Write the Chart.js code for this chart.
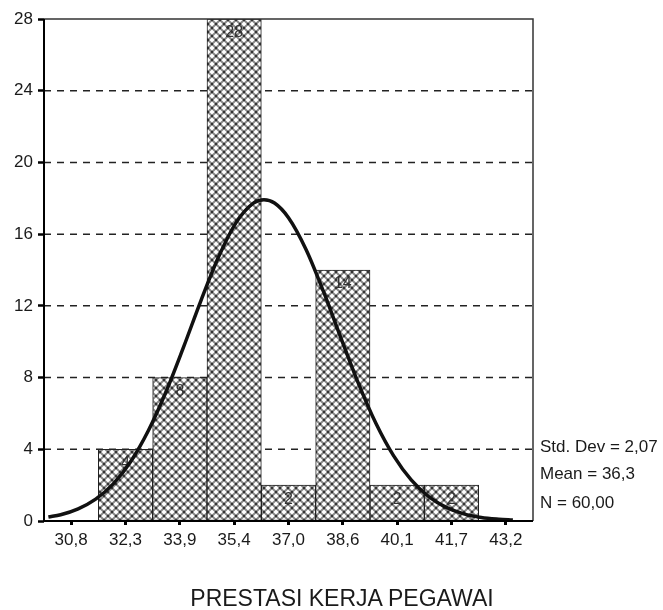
<!DOCTYPE html>
<html>
<head>
<meta charset="utf-8">
<script src="https://cdn.jsdelivr.net/npm/chart.js@4.4.0/dist/chart.umd.min.js"></script>
<style>
  body { margin: 0; background: #fff; }
  #wrap { position: relative; width: 663px; height: 610px; font-family: "Liberation Sans", Arial, sans-serif; color: #1a1a1a; }
  #chart { position: absolute; left: 0; top: 0; }
  .stat { position: absolute; left: 540px; font-size: 17px; line-height: 20px; white-space: nowrap; }
  #title { position: absolute; left: 342px; top: 585px; transform: translateX(-50%); font-size: 23px; white-space: nowrap; }
</style>
</head>
<body>
<div id="wrap">
  <canvas id="chart" width="663" height="610"></canvas>
  <div class="stat" style="top:437px">Std. Dev = 2,07</div>
  <div class="stat" style="top:464px">Mean = 36,3</div>
  <div class="stat" style="top:493px">N = 60,00</div>
  <div id="title">PRESTASI KERJA PEGAWAI</div>
</div>
<script>
// Histogram bins (centres) and counts
const binCenters = [30.8, 32.35, 33.9, 35.45, 37.0, 38.55, 40.1, 41.65, 43.2];
const tickLabels = ['30,8', '32,3', '33,9', '35,4', '37,0', '38,6', '40,1', '41,7', '43,2'];
const frequencies = [0, 4, 8, 28, 2, 14, 2, 2, 0];

// Normal curve
const curveX = [30.15, 30.5, 31, 31.5, 32, 32.5, 33, 33.5, 34, 34.5, 35, 35.5, 36, 36.3,
                36.6, 37, 37.5, 38, 38.5, 39, 39.5, 40, 40.5, 41, 41.5, 42, 42.5, 43, 43.4];
const curveY = [0.22, 0.35, 0.68, 1.22, 2.07, 3.32, 5.03, 7.18, 9.67, 12.28, 14.71, 16.63, 17.73, 17.92,
                17.74, 16.92, 15.15, 12.79, 10.19, 7.65, 5.42, 3.63, 2.29, 1.36, 0.76, 0.40, 0.20, 0.10, 0.05];

const yMax = 28;
const yStep = 4;

// cross-hatch fill like the original print
function makeHatch() {
    const n = 8;
    const c = document.createElement('canvas');
    c.width = n; c.height = n;
    const g = c.getContext('2d');
    g.fillStyle = '#fff';
    g.fillRect(0, 0, n, n);
    g.strokeStyle = '#888';
    g.lineWidth = 2;
    g.beginPath();
    g.moveTo(-1, -1); g.lineTo(n + 1, n + 1);
    g.moveTo(-1, n + 1); g.lineTo(n + 1, -1);
    g.stroke();
    g.fillStyle = '#333';
    [[0, 0], [n, 0], [0, n], [n, n], [n / 2, n / 2]].forEach(([px, py]) => {
        g.beginPath();
        g.arc(px, py, 1.2, 0, Math.PI * 2);
        g.fill();
    });
    return g.createPattern(c, 'repeat');
}

const gridAndFrame = {
    id: 'gridAndFrame',
    beforeDatasetsDraw(chart) {
        const { ctx, chartArea: a, scales: { y } } = chart;
        ctx.save();
        ctx.strokeStyle = '#222';
        ctx.lineWidth = 1.5;
        ctx.setLineDash([7, 6]);
        y.ticks.forEach(t => {
            if (t.value <= 0 || t.value >= yMax) return;
            const py = y.getPixelForValue(t.value);
            ctx.beginPath();
            ctx.moveTo(a.left, py);
            ctx.lineTo(a.right, py);
            ctx.stroke();
        });
        ctx.restore();
    },
    afterDatasetDraw(chart, args) {
        if (args.index !== 0) return;
        const { ctx } = chart;
        ctx.save();
        ctx.font = '16px "Liberation Sans", Arial, sans-serif';
        ctx.fillStyle = '#333';
        ctx.textAlign = 'center';
        ctx.textBaseline = 'middle';
        args.meta.data.forEach((bar, i) => {
            if (!frequencies[i]) return;
            ctx.fillText(String(frequencies[i]), bar.x, bar.y + 14);
        });
        ctx.restore();
    },
    afterDatasetsDraw(chart) {
        const { ctx, chartArea: a } = chart;
        ctx.save();
        ctx.strokeStyle = '#333';
        ctx.lineWidth = 1.5;
        ctx.beginPath();
        ctx.moveTo(a.left, a.top);
        ctx.lineTo(a.right, a.top);
        ctx.lineTo(a.right, a.bottom);
        ctx.stroke();
        ctx.strokeStyle = '#000';
        ctx.lineWidth = 2;
        ctx.beginPath();
        ctx.moveTo(a.left, a.top);
        ctx.lineTo(a.left, a.bottom);
        ctx.lineTo(a.right, a.bottom);
        ctx.stroke();
        ctx.restore();
    }
};

const tickFont = { family: '"Liberation Sans", Arial, sans-serif', size: 17 };

new Chart(document.getElementById('chart'), {
    type: 'bar',
    data: {
        datasets: [{
            type: 'bar',
            order: 1,
            data: binCenters.map((x, i) => ({ x: x, y: frequencies[i] })),
            backgroundColor: makeHatch(),
            borderColor: '#222',
            borderWidth: 1,
            borderSkipped: false,
            barPercentage: 1,
            categoryPercentage: 1
        }, {
            type: 'line',
            order: 0,
            data: curveX.map((x, i) => ({ x: x, y: curveY[i] })),
            borderColor: '#111',
            borderWidth: 3.5,
            pointRadius: 0,
            cubicInterpolationMode: 'monotone',
            fill: false
        }]
    },
    options: {
        responsive: false,
        animation: false,
        layout: { padding: { top: 19, right: 130, bottom: 59, left: 0 } },
        plugins: { legend: { display: false }, tooltip: { enabled: false } },
        scales: {
            x: {
                type: 'linear',
                min: 30.025,
                max: 43.975,
                offset: false,
                afterBuildTicks: s => { s.ticks = binCenters.map(v => ({ value: v })); },
                afterFit: s => { s.height = 30; },
                ticks: {
                    autoSkip: false,
                    maxRotation: 0,
                    padding: 5,
                    color: '#1a1a1a',
                    font: tickFont,
                    callback: (v, i) => tickLabels[i]
                },
                grid: { drawOnChartArea: false, drawTicks: true, tickLength: 4, tickWidth: 3, tickColor: '#000', offset: false },
                border: { display: false }
            },
            y: {
                min: 0,
                max: yMax,
                afterFit: s => { s.width = 44; },
                ticks: { stepSize: yStep, padding: 5, color: '#1a1a1a', font: tickFont },
                grid: { drawOnChartArea: false, drawTicks: true, tickLength: 6, tickWidth: 2.5, tickColor: '#000' },
                border: { display: false }
            }
        }
    },
    plugins: [gridAndFrame]
});
</script>
</body>
</html>
